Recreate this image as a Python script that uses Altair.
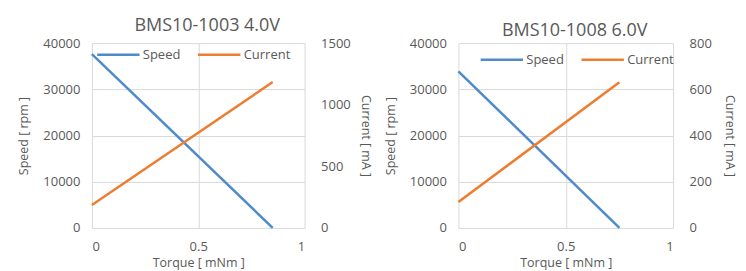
import altair as alt
import pandas as pd

# ---- data ----
series_names = ["Speed", "Current"]

torque_a = [0.0, 0.85]
speed_a = [37600, 0]
current_a = [186, 1184]

torque_b = [0.0, 0.75]
speed_b = [33900, 0]
current_b = [112, 631]

titles = ["BMS10-1003 4.0V", "BMS10-1008 6.0V"]
speed_ticks = [0, 10000, 20000, 30000, 40000]
current_ticks_a = [0, 500, 1000, 1500]
current_ticks_b = [0, 200, 400, 600, 800]
torque_ticks = [0, 0.5, 1]

BLUE = "#4F8BCB"
ORANGE = "#ED7D31"
GRAY = "#595959"
GRID = "#D9D9D9"
FONT = "Open Sans"


def axis_style(**kw):
    base = dict(
        labelFont=FONT,
        labelFontSize=13,
        labelColor=GRAY,
        titleFont=FONT,
        titleFontSize=12.5,
        titleColor=GRAY,
        titleFontWeight="normal",
        domain=False,
        ticks=False,
        tickSize=0,
    )
    base.update(kw)
    return alt.Axis(**base)


def panel(title, torque, speed, current, cur_ticks, width, legend_x, legend_y, cur_title_pad):
    df_s = pd.DataFrame({"torque": torque, "value": speed, "series": "Speed"})
    df_c = pd.DataFrame({"torque": torque, "value": current, "series": "Current"})

    x = alt.X(
        "torque:Q",
        scale=alt.Scale(domain=[0, 1], nice=False),
        axis=axis_style(
            values=torque_ticks,
            labelExpr="datum.value",
            title="Torque [ mNm ]",
            grid=True,
            gridColor=GRID,
            labelPadding=13,
            titlePadding=3,
        ),
    )
    color = alt.Color(
        "series:N",
        scale=alt.Scale(domain=series_names, range=[BLUE, ORANGE]),
        legend=alt.Legend(
            title=None,
            orient="none",
            direction="horizontal",
            legendX=legend_x,
            legendY=legend_y,
            symbolType="stroke",
            symbolSize=1800,
            symbolStrokeWidth=2.5,
            labelOffset=2,
            columnPadding=12,
            padding=0,
            labelFontSize=13,
            labelColor=GRAY,
            labelFont=FONT,
        ),
    )

    speed_line = (
        alt.Chart(df_s)
        .mark_line(strokeWidth=2.5)
        .encode(
            x=x,
            y=alt.Y(
                "value:Q",
                scale=alt.Scale(domain=[0, 40000], nice=False),
                axis=axis_style(
                    values=speed_ticks,
                    format="d",
                    title="Speed [ rpm ]",
                    orient="left",
                    grid=True,
                    gridColor=GRID,
                    labelPadding=12,
                    titlePadding=12,
                ),
            ),
            color=color,
        )
    )
    current_line = (
        alt.Chart(df_c)
        .mark_line(strokeWidth=2.5)
        .encode(
            x=x,
            y=alt.Y(
                "value:Q",
                scale=alt.Scale(domain=[cur_ticks[0], cur_ticks[-1]], nice=False),
                axis=axis_style(
                    values=cur_ticks,
                    format="d",
                    title="Current [ mA ]",
                    orient="right",
                    grid=False,
                    labelPadding=16,
                    titlePadding=cur_title_pad,
                ),
            ),
            color=color,
        )
    )
    return (
        alt.layer(speed_line, current_line)
        .resolve_scale(y="independent")
        .properties(
            width=width,
            height=185,
            title=alt.TitleParams(
                title,
                fontSize=18,
                font=FONT,
                fontWeight="normal",
                color=GRAY,
                anchor="middle",
                offset=-3,
                dx=9,
            ),
        )
    )


left = panel(titles[0], torque_a, speed_a, current_a, current_ticks_a, 213, 4, -11, 8)
right = panel(titles[1], torque_b, speed_b, current_b, current_ticks_b, 215, 21, -6, 11)

chart = (
    alt.hconcat(left, right, spacing=12)
    .resolve_scale(color="independent")
    .resolve_legend(color="independent")
    .properties(
        padding={"left": 9, "top": 9, "right": 2, "bottom": 0},
        background="white",
    )
    .configure_view(stroke=None)
)

chart.save("out.html", embed_options={"renderer": "svg", "actions": False})
